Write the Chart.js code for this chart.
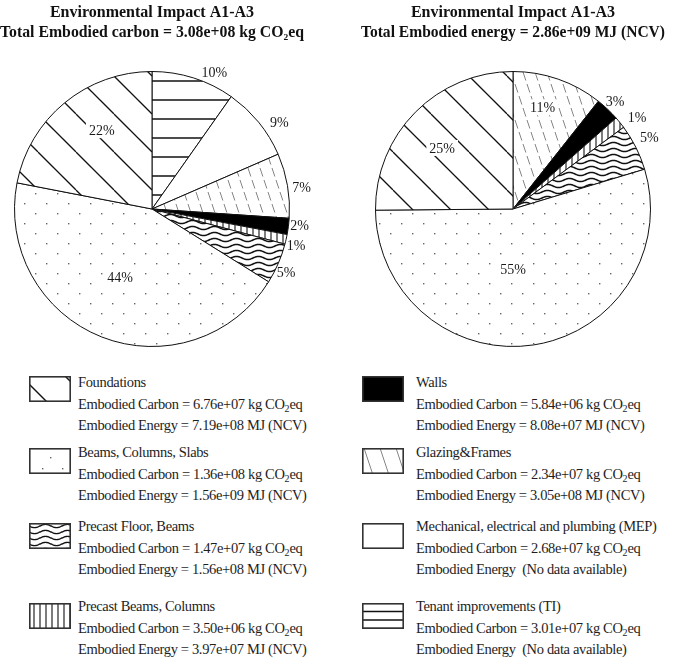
<!DOCTYPE html>
<html><head><meta charset="utf-8">
<script src="https://cdn.jsdelivr.net/npm/chart.js@4.4.1/dist/chart.umd.min.js"></script>
<style>
html,body{margin:0;padding:0;background:#fff;}
#page{position:relative;width:685px;height:660px;overflow:hidden;font-family:"Liberation Serif","Times New Roman",serif;color:#1e1e1e;}
.cw{position:absolute;top:0;height:352px;}
.sw{position:absolute;display:block;}
.lt{position:absolute;font-size:14.5px;line-height:21.6px;letter-spacing:-0.35px;white-space:pre;}
.lt sub{font-size:10px;vertical-align:-3px;line-height:0;letter-spacing:0;}
</style></head>
<body><div id="page">
<div class="cw" style="left:0px;width:330px"><canvas id="c1" width="330" height="352"></canvas></div>
<div class="cw" style="left:355px;width:330px"><canvas id="c2" width="330" height="352"></canvas></div>
<div id="legend"></div>
</div>
<script>
// ---------------- data ----------------
const categories = ['Foundations','Beams, Columns, Slabs','Precast Floor, Beams','Precast Beams, Columns','Walls','Glazing&Frames','Mechanical, electrical and plumbing (MEP)','Tenant improvements (TI)'];
const carbonValues = [6.76e7, 1.36e8, 1.47e7, 3.50e6, 5.84e6, 2.34e7, 2.68e7, 3.01e7];   // kg CO2eq
const energyValues = [7.19e8, 1.56e9, 1.56e8, 3.97e7, 8.08e7, 3.05e8, null, null];       // MJ (NCV)
const chartTitle = 'Environmental Impact A1-A3';
const patternKeys = ['foundations','dots','waves','vlines','solid','glazing','blank','hlines'];

// ---------------- helpers ----------------
function fmt(v){
  const parts = v.toExponential(2).split('e');
  const e = parts[1]; return parts[0] + 'e' + e[0] + e.slice(1).padStart(2,'0');
}
function pctLabels(vals){
  const tot = vals.reduce((a,b)=>a+b,0);
  const raw = vals.map(v=>v/tot*100);
  const fl = raw.map(Math.floor);
  const rem = 100 - fl.reduce((a,b)=>a+b,0);
  const order = raw.map((r,i)=>[r-fl[i],i]).sort((a,b)=>b[0]-a[0]);
  for(let k=0;k<rem;k++) fl[order[k][1]]++;
  return fl.map(v=>v+'%');
}

// painters draw a pattern into rect (0,0,w,h)
const painters = {
  diag(ctx,w,h,o){
    ctx.strokeStyle=o.color; ctx.lineWidth=o.width; if(o.dash) ctx.setLineDash(o.dash);
    const shift = o.ratio*h;
    for(let x0=(o.offset||0)-Math.ceil((shift+o.spacing*2)/o.spacing)*o.spacing; x0<w+o.spacing; x0+=o.spacing){
      ctx.beginPath(); ctx.moveTo(x0,0); ctx.lineTo(x0+shift,h); ctx.stroke();
    }
    ctx.setLineDash([]);
  },
  hlines(ctx,w,h,o){
    ctx.strokeStyle=o.color; ctx.lineWidth=o.width;
    for(let y=(o.offset||0); y<h+1; y+=o.spacing){ ctx.beginPath(); ctx.moveTo(0,y); ctx.lineTo(w,y); ctx.stroke(); }
  },
  vlines(ctx,w,h,o){
    ctx.strokeStyle=o.color; ctx.lineWidth=o.width;
    for(let x=(o.offset||0); x<w+1; x+=o.spacing){ ctx.beginPath(); ctx.moveTo(x,0); ctx.lineTo(x,h); ctx.stroke(); }
  },
  waves(ctx,w,h,o){
    ctx.strokeStyle=o.color; ctx.lineWidth=o.width;
    for(let y0=(o.offset||0)-o.spacing; y0<h+o.spacing; y0+=o.spacing){
      ctx.beginPath();
      for(let x=-1;x<=w+1;x+=0.5){ const y=y0+o.amp*Math.sin(2*Math.PI*x/o.wave); if(x===-1) ctx.moveTo(x,y); else ctx.lineTo(x,y); }
      ctx.stroke();
    }
  },
  dots(ctx,w,h,o){
    ctx.fillStyle=o.color;
    o.pts.forEach(p=>{
      for(let x=p[0]-o.tw; x<w+o.tw; x+=o.tw) for(let y=p[1]-o.th; y<h+o.th; y+=o.th) ctx.fillRect(x,y,o.size,o.size);
    });
  },
  solid(ctx,w,h,o){ ctx.fillStyle=o.color; ctx.fillRect(0,0,w,h); },
  blank(ctx,w,h,o){ ctx.fillStyle='#fff'; ctx.fillRect(0,0,w,h); }
};

const pieStyles = {
  foundations:{p:'diag', tw:38, th:38, o:{spacing:38, ratio:1, color:'#111', width:1.3}},
  dots:{p:'dots', tw:22, th:20, o:{tw:22, th:20, pts:[[2,3],[13,13]], size:1.4, color:'#666'}},
  waves:{p:'waves', tw:22, th:6, o:{spacing:6, wave:22, amp:1.6, color:'#111', width:1.5}},
  vlines:{p:'vlines', tw:6, th:6, o:{spacing:6, offset:1, color:'#111', width:1.1}},
  solid:{p:'solid', tw:4, th:4, o:{color:'#000'}},
  glazing:{p:'diag', tw:12, th:36, o:{spacing:12, ratio:1/3, color:'#666', width:0.8, dash:[9,3.65]}},
  blank:{p:'blank', tw:4, th:4, o:{}},
  hlines:{p:'hlines', tw:8, th:19.5, o:{spacing:19.5, offset:5, color:'#111', width:1.5}}
};
const swatchStyles = {
  foundations:{p:'diag', o:{spacing:44, ratio:1, offset:-8, color:'#111', width:1.4}},
  dots:{p:'dots', o:{tw:100, th:100, pts:[[21,9],[13,20],[33,20]], size:1.4, color:'#666'}},
  waves:{p:'waves', o:{spacing:6, wave:22, amp:1.6, offset:3, color:'#111', width:1.4}},
  vlines:{p:'vlines', o:{spacing:6, offset:5, color:'#111', width:1.1}},
  solid:{p:'solid', o:{color:'#000'}},
  glazing:{p:'diag', o:{spacing:16, ratio:1/3, offset:2, color:'#666', width:0.8}},
  blank:{p:'blank', o:{}},
  hlines:{p:'hlines', o:{spacing:8.5, offset:8.5, color:'#111', width:1.3}}
};

function makePattern(key){
  const s = pieStyles[key];
  const c = document.createElement('canvas'); c.width = s.tw; c.height = s.th;
  const ctx = c.getContext('2d'); ctx.fillStyle='#fff'; ctx.fillRect(0,0,s.tw,s.th);
  painters[s.p](ctx, s.tw, s.th, s.o);
  return document.getElementById('c1').getContext('2d').createPattern(c,'repeat');
}

// ---------------- percent label plugin ----------------
const pctLabelPlugin = {
  id:'pctLabels',
  afterDatasetsDraw(chart, args, opts){
    const ctx = chart.ctx; const meta = chart.getDatasetMeta(0);
    ctx.save();
    ctx.font = '14px "Liberation Serif", serif';
    ctx.textAlign='center'; ctx.textBaseline='middle';
    meta.data.forEach((arc,i)=>{
      const p = arc.getProps(['x','y','startAngle','endAngle','outerRadius'], true);
      const mid = (p.startAngle+p.endAngle)/2 + (opts.shift[i]||0)*Math.PI/180;
      const r = p.outerRadius*opts.radius[i];
      const x = p.x+Math.cos(mid)*r, y = p.y+Math.sin(mid)*r;
      const t = opts.labels[i]; const w = ctx.measureText(t).width;
      if(opts.radius[i] < 1){ ctx.fillStyle='#fff'; ctx.fillRect(x-w/2-3, y-8, w+6, 16); }
      ctx.fillStyle='#1a1a1a'; ctx.fillText(t, x, y+1);
    });
    ctx.restore();
  }
};

function buildPie(id, values, line2, pad, radius, shift){
  const idx = values.map((v,i)=>i).filter(i=>values[i]!==null).reverse();
  const vals = idx.map(i=>values[i]);
  new Chart(document.getElementById(id), {
    type:'pie',
    data:{ labels: idx.map(i=>categories[i]),
      datasets:[{ data: vals, backgroundColor: idx.map(i=>makePattern(patternKeys[i])), borderColor:'#111', borderWidth:1 }]},
    options:{
      responsive:false, animation:false, events:[],
      layout:{padding:{top:0,bottom:5,left:pad[0],right:pad[1]}},
      plugins:{
        legend:{display:false}, tooltip:{enabled:false},
        title:{display:true, fullSize:false, text:[chartTitle, line2], color:'#111',
          font:{family:'"Liberation Serif", serif', size:16, weight:'bold', lineHeight:1.3},
          padding:{top:2, bottom:27.4}},
        pctLabels:{labels: pctLabels(vals), radius, shift}
      }
    },
    plugins:[pctLabelPlugin]
  });
}

const carbonTotal = carbonValues.reduce((a,b)=>a+b,0);
const energyTotal = energyValues.filter(v=>v!==null).reduce((a,b)=>a+b,0);
buildPie('c1', carbonValues, 'Total Embodied carbon = '+fmt(carbonTotal)+' kg CO\u2082eq', [0,26],
  [1.09,1.12,1.10,1.08,1.08,1.08,0.55,0.68], [7,5,1.6,-1,1.4,2,3.5,7]);
buildPie('c2', energyValues, 'Total Embodied energy = '+fmt(energyTotal)+' MJ (NCV)', [6,20],
  [0.77,1.08,1.12,1.12,0.44,0.68], [-3,0,2.6,-1,8.5,-4]);

// ---------------- legend ----------------
const legend = document.getElementById('legend');
const rowTops = [376, 448, 523, 603];
const textTops = [372, 442, 516, 596];
const cols = [{sx:29, tx:78}, {sx:362, tx:416}];
categories.forEach((name,i)=>{
  const col = cols[Math.floor(i/4)], row = i%4;
  const c = document.createElement('canvas'); c.width=42; c.height=26; c.className='sw';
  c.style.left = col.sx+'px'; c.style.top = rowTops[row]+'px';
  const ctx = c.getContext('2d'); ctx.fillStyle='#fff'; ctx.fillRect(0,0,42,26);
  const s = swatchStyles[patternKeys[i]];
  ctx.save(); ctx.beginPath(); ctx.rect(0,0,42,26); ctx.clip();
  painters[s.p](ctx,42,26,s.o); ctx.restore();
  ctx.strokeStyle='#333'; ctx.lineWidth=1.6; ctx.strokeRect(0.8,0.8,40.4,24.4);
  legend.appendChild(c);
  const t = document.createElement('div'); t.className='lt';
  t.style.left = col.tx+'px'; t.style.top = textTops[row]+'px';
  const e = energyValues[i];
  t.innerHTML = name + '\nEmbodied Carbon = ' + fmt(carbonValues[i]) + ' kg CO<sub>2</sub>eq\n' +
    (e===null ? 'Embodied Energy  (No data available)' : 'Embodied Energy = ' + fmt(e) + ' MJ (NCV)');
  legend.appendChild(t);
});
</script>
</body></html>
